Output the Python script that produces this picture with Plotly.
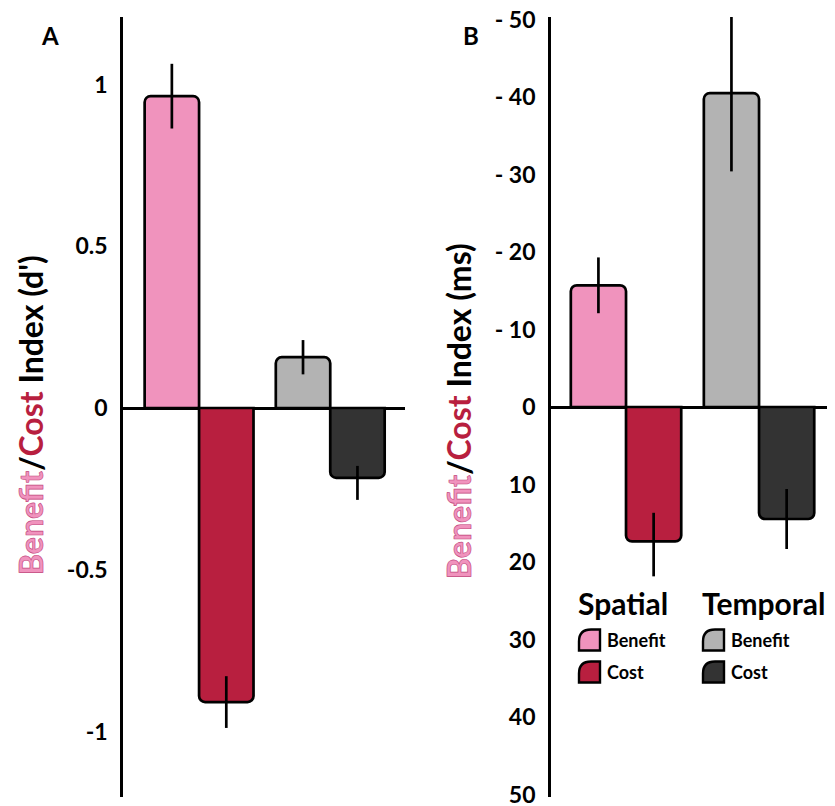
import plotly.graph_objects as go

# ---------------- data ----------------
groups = ["Spatial", "Temporal"]

# Panel A: Benefit/Cost index in d'
dprime_benefit = [0.964, 0.157]
dprime_benefit_err = [0.10, 0.053]
dprime_cost = [-0.909, -0.216]
dprime_cost_err_plus = [0.08, 0.037]
dprime_cost_err_minus = [0.08, 0.068]

# Panel B: Benefit/Cost index in ms (negative = benefit, faster RT)
rt_benefit = [-15.7, -40.5]
rt_benefit_err = [3.6, 10.1]
rt_cost = [17.35, 14.45]
rt_cost_err_plus = [4.5, 3.87]
rt_cost_err_minus = [3.7, 3.87]

benefit_colors = ["#F093BD", "#B3B3B3"]
cost_colors = ["#B81F3F", "#333333"]

yA_tickvals = [-1, -0.5, 0, 0.5, 1]
yA_ticktext = ["-1", "-0.5", "0", "0.5", "1"]
yB_tickvals = [-50, -40, -30, -20, -10, 0, 10, 20, 30, 40, 50]
yB_ticktext = ["- 50", "- 40", "- 30", "- 20", "- 10", "0", "10", "20", "30", "40", "50"]

legend_groups = ["Spatial", "Temporal"]
legend_items = ["Benefit", "Cost"]

# ---------------- figure ----------------
W, H = 835, 806
OFF = 8  # page body margin
FONT = "Lato"
PINK, CRIMSON = "#F093BD", "#B81F3F"


def px(x):
    return (x - OFF) / W


def py(y):
    return 1 - (y - OFF) / H


fig = go.Figure()

bar_line = dict(color="black", width=2.7)
err_style = dict(type="data", color="black", thickness=2.7, width=0, symmetric=False)

fig.add_trace(go.Bar(x=groups, y=dprime_benefit, marker=dict(color=benefit_colors, line=bar_line),
                     error_y=dict(array=dprime_benefit_err, arrayminus=dprime_benefit_err, **err_style),
                     xaxis="x", yaxis="y", name="Benefit"))
fig.add_trace(go.Bar(x=groups, y=dprime_cost, marker=dict(color=cost_colors, line=bar_line),
                     error_y=dict(array=dprime_cost_err_plus, arrayminus=dprime_cost_err_minus, **err_style),
                     xaxis="x", yaxis="y", name="Cost"))
fig.add_trace(go.Bar(x=groups, y=rt_benefit, marker=dict(color=benefit_colors, line=bar_line),
                     error_y=dict(array=rt_benefit_err, arrayminus=rt_benefit_err, **err_style),
                     xaxis="x2", yaxis="y2", name="Benefit"))
fig.add_trace(go.Bar(x=groups, y=rt_cost, marker=dict(color=cost_colors, line=bar_line),
                     error_y=dict(array=rt_cost_err_plus, arrayminus=rt_cost_err_minus, **err_style),
                     xaxis="x2", yaxis="y2", name="Cost"))

ydom = [py(797), py(17)]
tickfont = dict(family=FONT, size=23, color="black", weight="bold")
yax_common = dict(domain=ydom, showline=True, linecolor="black", linewidth=2.7,
                  zeroline=True, zerolinecolor="black", zerolinewidth=2.7,
                  showgrid=False, ticks="", ticklabelstandoff=8, tickfont=tickfont,
                  ticklabeloverflow="allow",
                  layer="above traces", automargin=False, fixedrange=True)
xax_common = dict(type="category", showline=False, showgrid=False, zeroline=False,
                  showticklabels=False, ticks="", automargin=False, fixedrange=True)

fig.update_layout(
    width=W, height=H,
    margin=dict(l=0, r=0, t=0, b=0),
    paper_bgcolor="white", plot_bgcolor="white",
    showlegend=False,
    barmode="group", bargap=0.17, bargroupgap=0,
    barcornerradius=6,
    font=dict(family=FONT, color="black"),
    xaxis=dict(domain=[px(123), px(405)], range=[-0.58, 1.57], anchor="y", **xax_common),
    yaxis=dict(anchor="x", range=[-1.2025, 1.2087], tickvals=yA_tickvals, ticktext=yA_ticktext, **yax_common),
    xaxis2=dict(domain=[px(551), 1.0], range=[-0.564, 1.571 + OFF / 133], anchor="y2", **xax_common),
    yaxis2=dict(anchor="x2", range=[50.32, -50.32], tickvals=yB_tickvals, ticktext=yB_ticktext, **yax_common),
)

title_html = ('<span style="color:%s;stroke:#C2427A;stroke-width:0.6px">Benefit</span>'
              '/<span style="color:%s">Cost</span> Index (%s)')

annotations = [
    dict(text="<b>A</b>", x=px(50), y=py(36), font=dict(size=24)),
    dict(text="<b>B</b>", x=px(471), y=py(36), font=dict(size=24)),
    dict(text="<b>" + title_html % (PINK, CRIMSON, "d'") + "</b>", x=px(30), y=py(415),
         textangle=-90, font=dict(size=32)),
    dict(text="<b>" + title_html % (PINK, CRIMSON, "ms") + "</b>", x=px(458), y=py(411),
         textangle=-90, font=dict(size=32)),
]
for a in annotations:
    a.update(xref="paper", yref="paper", showarrow=False, xanchor="center", yanchor="middle")
    a["font"].update(family=FONT, color="black")

# legend built from text and icons
legend_x = {"Spatial": 578, "Temporal": 702}
item_y = {"Benefit": 640, "Cost": 672}
icon_colors = {("Spatial", "Benefit"): benefit_colors[0], ("Spatial", "Cost"): cost_colors[0],
               ("Temporal", "Benefit"): benefit_colors[1], ("Temporal", "Cost"): cost_colors[1]}
shapes = []
for g in legend_groups:
    x0 = legend_x[g]
    annotations.append(dict(text="<b>%s</b>" % g, x=px(x0 - 2), y=py(603), xref="paper", yref="paper",
                            showarrow=False, xanchor="left", yanchor="middle",
                            font=dict(family=FONT, size=30, color="black")))
    for it in legend_items:
        yc = item_y[it]
        s, r = 21, 12
        X0, X1 = x0 + 1, x0 + 1 + s
        Y0, Y1 = yc - s / 2, yc + s / 2
        path = ("M %f,%f L %f,%f Q %f,%f %f,%f L %f,%f L %f,%f Z" % (
            px(X0), py(Y1), px(X0), py(Y0 + r), px(X0), py(Y0), px(X0 + r), py(Y0),
            px(X1), py(Y0), px(X1), py(Y1)))
        shapes.append(dict(type="path", path=path, xref="paper", yref="paper",
                           fillcolor=icon_colors[(g, it)], line=dict(color="black", width=2.4)))
        annotations.append(dict(text="<b>%s</b>" % it, x=px(x0 + 27), y=py(yc), xref="paper", yref="paper",
                                showarrow=False, xanchor="left", yanchor="middle",
                                font=dict(family=FONT, size=18, color="black")))

fig.update_layout(annotations=annotations, shapes=shapes)

fig.write_html("out.html")
